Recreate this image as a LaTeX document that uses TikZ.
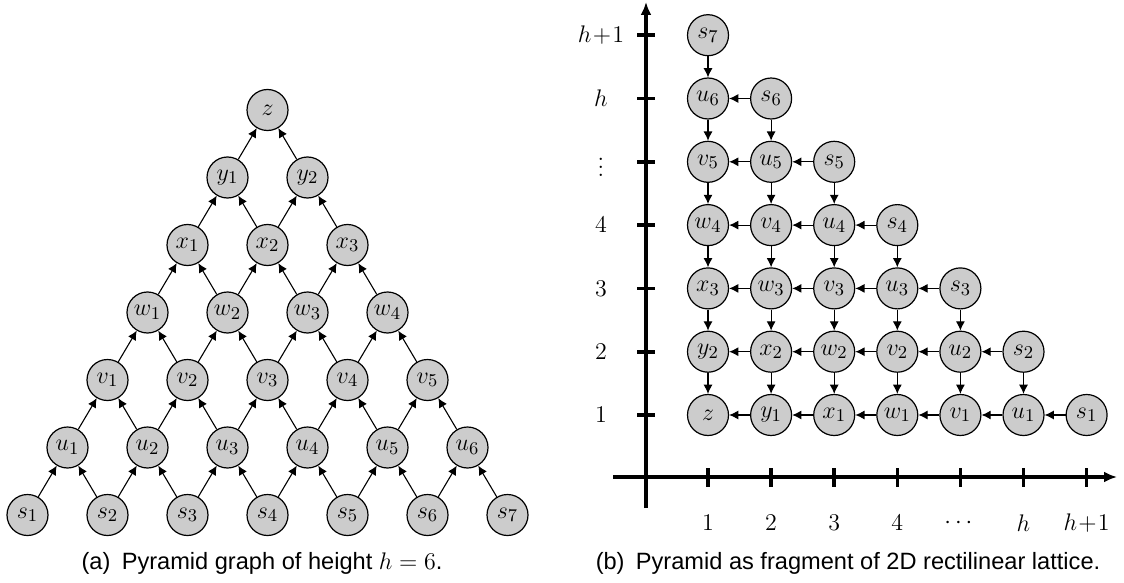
\documentclass[tikz,border=0pt]{standalone}
\usepackage{amsmath,amssymb}
\usepackage{fontspec}
\newfontfamily\capfont{Liberation Sans}
\usepackage{tikz}
\usetikzlibrary{arrows.meta}

\begin{document}
\begin{tikzpicture}[
  x=0.5pt,y=-0.5pt,
  >={Latex[length=4.6pt,width=4.5pt]},
  vertex/.style={circle,draw,fill=black!20,line width=0.6pt,
                 minimum size=20.5pt,inner sep=0pt,font=\fontsize{12.5}{15}\selectfont},
  edge/.style={->,line width=0.55pt},
  axis/.style={-{Latex[length=6.5pt,width=5.5pt]},line width=1.8pt},
  tick/.style={line width=1.8pt},
  lbl/.style={font=\fontsize{12}{14}\selectfont,inner sep=0pt},
  caption/.style={font=\capfont\fontsize{11.8}{14}\selectfont,anchor=base,inner sep=0pt}
]
\useasboundingbox (0,0) rectangle (1124,583);
% nodes of the pyramid (P) and of the lattice (L)
\foreach \l/\lt in {1/s,2/u,3/v,4/w,5/x,6/y}{
  \pgfmathtruncatemacro\n{8-\l}
  \foreach \i in {1,...,\n}{
    \node[vertex] (P\l-\i) at ({27.5+40*(\l-1)+80*(\i-1)},{515-67.5*(\l-1)}) {$\lt_{\i}$};
    \node[vertex] (L\l-\i) at ({708+63.1*(8-\l-\i)},{415-63.3*(\i-1)}) {$\lt_{\i}$};
  }
}
\node[vertex] (P7-1) at (267.5,110) {$z$};
\node[vertex] (L7-1) at (708,415)   {$z$};
% arcs
\foreach \l in {1,...,6}{
  \pgfmathtruncatemacro\n{8-\l}
  \pgfmathtruncatemacro\m{\l+1}
  \foreach \i in {1,...,\n}{
    \pgfmathtruncatemacro\j{\i-1}
    \ifnum\i>1 \draw[edge] (P\l-\i) -- (P\m-\j); \draw[edge] (L\l-\i) -- (L\m-\j); \fi
    \ifnum\i<\n \draw[edge] (P\l-\i) -- (P\m-\i); \draw[edge] (L\l-\i) -- (L\m-\i); \fi
  }
}
% axes
\coordinate (O) at (646,477);
\coordinate (ytop) at (646,2);
\coordinate (ybot) at (646,508);
\coordinate (xleft) at (613,477);
\coordinate (xright) at (1117,477);
\draw[axis] (ybot) -- (ytop);
\draw[axis] (xleft) -- (xright);
\foreach \k/\t in {0/1,1/2,2/3,3/4,4/\cdots,5/h,6/h\!+\!1}{
  \draw[tick] ({708+63.1*\k},468) -- ({708+63.1*\k},487);
  \node[lbl] (xt\k) at ({708+63.1*\k},523) {$\t$};
}
\foreach \k/\t in {0/1,1/2,2/3,3/4,4/\vdots,5/h,6/h\!+\!1}{
  \draw[tick] (637,{415-63.3*\k}) -- (655,{415-63.3*\k});
  \node[lbl] (yt\k) at (601,{415-63.3*\k}) {$\t$};
}
% captions
\node[caption] (capa) at (262,569) {(a)\hspace{0.48em}Pyramid graph of height $h=6$.};
\node[caption] (capb) at (848,569) {(b)\hspace{0.48em}Pyramid as fragment of 2D rectilinear lattice.};
\end{tikzpicture}
\end{document}
